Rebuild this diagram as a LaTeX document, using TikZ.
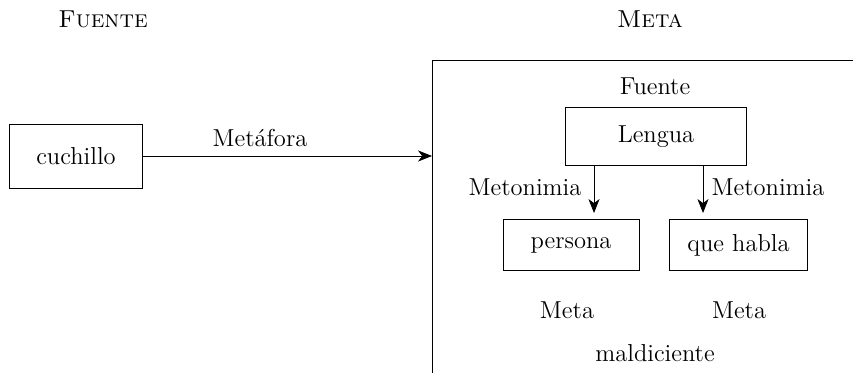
\documentclass[tikz,border=0pt]{standalone}
\usepackage{tikz}
\usetikzlibrary{calc,arrows.meta}
\newcommand{\caja}[6]{\node[draw,inner sep=0pt,minimum width=#4cm,minimum height=#5cm] (#1) at ( #2 , #3 ) {#6};}
\newcommand{\rotulo}[4]{\node[draw=none,inner sep=1pt] (#1) at ( #2 , #3 ) {#4};}

\begin{document}
\begin{tikzpicture}[x=0.0172cm,y=-0.0172cm,font=\large,>={Stealth[length=0.24cm,width=0.19cm,inset=0.07cm]}]
\useasboundingbox (0,0) rectangle (853,373);
% headings
\rotulo{fuente}{103}{19}{\textsc{Fuente}}
\rotulo{meta}{650}{19}{\textsc{Meta}}
% source box and metaphor arrow
\caja{cuchillo}{76}{156}{2.29}{1.10}{cuchillo}
\coordinate (marco) at (432,156);
\draw[->] (cuchillo.east) -- (marco);
\rotulo{metafora}{260}{138}{Met\'afora}
% target frame
\draw (853,60) -- (432,60) -- (432,373);
\rotulo{fuente2}{655}{86}{Fuente}
\caja{lengua}{656}{136.5}{3.10}{1.01}{Lengua}
% target boxes
\caja{persona}{571}{245}{2.34}{0.89}{persona}
\caja{quehabla}{738.5}{245}{2.36}{0.89}{que habla}
% metonymy arrows
\coordinate (fin1) at (594,213);
\coordinate (fin2) at (703,213);
\draw[->] (lengua.south -| fin1) -- (fin1);
\draw[->] (lengua.south -| fin2) -- (fin2);
\rotulo{meton1}{525}{187}{Metonimia}
\rotulo{meton2}{768}{187}{Metonimia}
% lower labels
\rotulo{meta1}{567}{310}{Meta}
\rotulo{meta2}{739}{310}{Meta}
\rotulo{maldiciente}{655}{353}{maldiciente}
\end{tikzpicture}
\end{document}
